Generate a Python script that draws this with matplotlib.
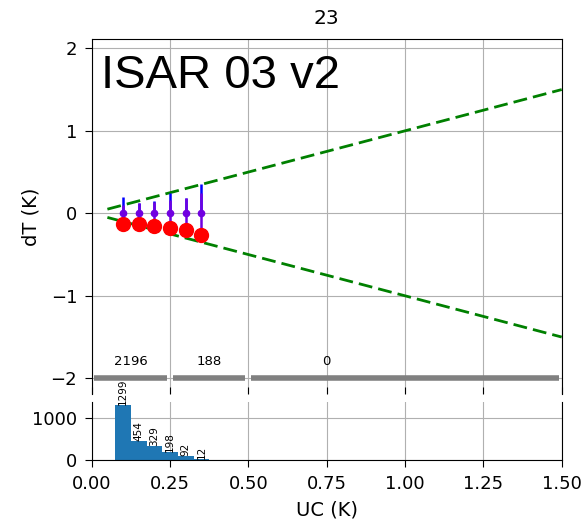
import numpy as np
from matplotlib import pyplot as plt

# values
uc = [0.10, 0.15, 0.20, 0.25, 0.30, 0.35]
dt_mean = [0.0, 0.0, 0.0, 0.0, 0.0, 0.0]
err_sym = [0.10, 0.12, 0.14, 0.16, 0.18, 0.25]
err_top = [0.20, 0.13, 0.15, 0.25, 0.19, 0.36]
dt_red = [-0.13, -0.13, -0.15, -0.18, -0.20, -0.26]

hist_edges = [0.075, 0.125, 0.175, 0.225, 0.275, 0.325, 0.375]
hist_counts = [1299, 454, 329, 198, 92, 12]

range_edges = [0.0, 0.25, 0.5, 1.5]
range_counts = [2196, 188, 0]
range_label_x = [0.125, 0.375, 0.75]

title = '23'
tag = 'ISAR 03 v2'

fig = plt.figure(figsize=(5.88, 5.23), dpi=100)
ax = fig.add_axes([0.156, 0.2467, 0.7993, 0.6778])
axh = fig.add_axes([0.156, 0.1205, 0.7993, 0.1115], sharex=ax)

# main panel
ax.grid(color='#b0b0b0', lw=0.8)
ax.set_axisbelow(True)
xl = np.array([0.05, 1.5])
ax.plot(xl, xl, '--', color='green', lw=2, dashes=(5, 2.2))
ax.plot(xl, -xl, '--', color='green', lw=2, dashes=(5, 2.2))
ax.vlines(uc, dt_mean, err_top, color='blue', lw=1.8)
ax.errorbar(uc, dt_mean, yerr=err_sym, fmt='o', color='#7000e0', ms=4.5, lw=1.8)
ax.plot(uc, dt_red, 'o', color='red', ms=10)

for lo, hi, n, lx in zip(range_edges[:-1], range_edges[1:], range_counts, range_label_x):
    ax.plot([lo + 0.008, hi - 0.01], [-2, -2], color='gray', lw=4, solid_capstyle='butt')
    ax.text(lx, -1.8, str(n), ha='center', va='center', fontsize=9.5)

ax.text(0.03, 1.52, tag, fontsize=34, family='Liberation Sans', va='baseline')
ax.set_xlim(0, 1.5)
ax.set_ylim(-2.19, 2.107)
ax.set_yticks([-2, -1, 0, 1, 2])
ax.set_ylabel('dT (K)', fontsize=14, labelpad=7)
ax.set_title(title, fontsize=14.5, pad=11)
ax.spines['bottom'].set_visible(False)
ax.tick_params(axis='x', direction='in', labelbottom=False, length=5)
ax.tick_params(axis='y', labelsize=13, length=5, pad=5.5)

# histogram panel
axh.grid(color='#b0b0b0', lw=0.8)
axh.set_axisbelow(True)
axh.hist(hist_edges[:-1], bins=hist_edges, weights=hist_counts, color='tab:blue')
centers = [(a + b) / 2 for a, b in zip(hist_edges[:-1], hist_edges[1:])]
for c, n in zip(centers, hist_counts):
    axh.text(c, n, str(n), rotation=90, ha='center', va='bottom', fontsize=7.5)
axh.set_ylim(0, 1378)
axh.set_yticks([0, 1000])
axh.spines['top'].set_visible(False)
axh.set_xticks([0, 0.25, 0.5, 0.75, 1.0, 1.25, 1.5])
axh.set_xlabel('UC (K)', fontsize=14, labelpad=6)
axh.tick_params(labelsize=13, length=5, pad=5.5)

fig.savefig('out.png')
